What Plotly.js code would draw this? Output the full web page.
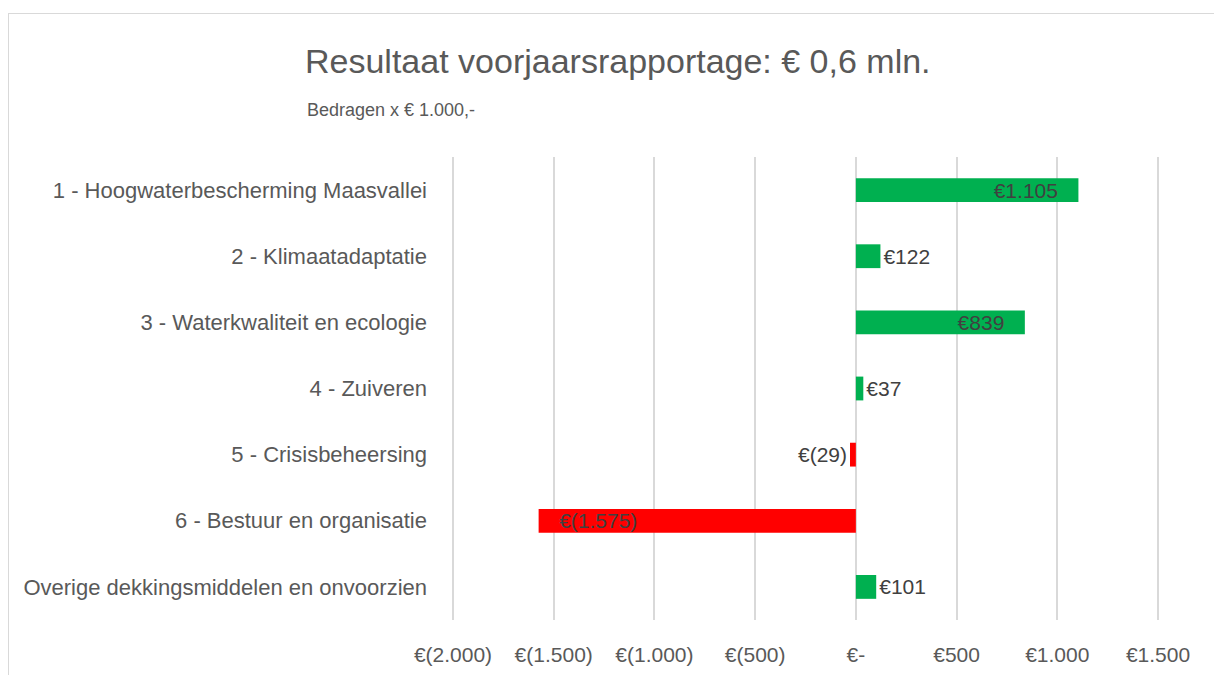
<!DOCTYPE html>
<html><head><meta charset="utf-8">
<script src="https://cdn.plot.ly/plotly-3.0.1.min.js"></script>
<style>
html,body{margin:0;padding:0;background:#fff;}
#wrap{position:relative;width:1214px;height:675px;overflow:hidden;}
#chart{width:1214px;height:675px;}
#frame{position:absolute;left:8px;top:13px;width:1220px;height:700px;border:1px solid #d9d9d9;pointer-events:none;}
</style></head>
<body><div id="wrap"><div id="chart"></div><div id="frame"></div></div>
<script>
const categories = [
  "1 - Hoogwaterbescherming Maasvallei",
  "2 - Klimaatadaptatie",
  "3 - Waterkwaliteit en ecologie",
  "4 - Zuiveren",
  "5 - Crisisbeheersing",
  "6 - Bestuur en organisatie",
  "Overige dekkingsmiddelen en onvoorzien"
];
const values = [1105, 122, 839, 37, -29, -1575, 101];
const tickVals = [-2000, -1500, -1000, -500, 0, 500, 1000, 1500];
const tickText = ["€(2.000)", "€(1.500)", "€(1.000)", "€(500)", "€-", "€500", "€1.000", "€1.500"];

function fmt(v){
  const a = Math.abs(v).toString().replace(/\B(?=(\d{3})+(?!\d))/g, ".");
  return v < 0 ? "€(" + a + ")" : "€" + a;
}
const colors = values.map(v => v < 0 ? "#FF0000" : "#00B050");
const positions = values.map(v => Math.abs(v) > 500 ? "inside" : "outside");
const PAD = "\u00a0\u00a0\u00a0";
const labels = values.map((v, i) => {
  if (positions[i] !== "inside") return fmt(v);
  return v < 0 ? PAD + fmt(v) : fmt(v) + PAD;
});

const FONT = "Liberation Sans, Arial, sans-serif";
const FS = 21;
const trace = {
  type: "bar", orientation: "h",
  y: categories, x: values,
  marker: {color: colors},
  width: 0.36,
  text: labels,
  textposition: positions,
  insidetextanchor: "end",
  constraintext: "none",
  cliponaxis: false,
  textfont: {family: FONT, size: FS, color: "#404040"},
  insidetextfont: {family: FONT, size: FS, color: "#404040"},
  outsidetextfont: {family: FONT, size: FS, color: "#404040"},
  hoverinfo: "none"
};
const L = 451, R = 54, T = 157, B = 55;
const layout = {
  width: 1214, height: 675,
  margin: {l: L, r: R, t: T, b: B},
  paper_bgcolor: "#fff", plot_bgcolor: "#fff",
  showlegend: false,
  font: {family: FONT, color: "#595959"},
  title: {text: "Resultaat voorjaarsrapportage: € 0,6 mln.", xref: "container", yref: "container",
    x: 305/1214, xanchor: "left", y: 1 - 61/675, yanchor: "middle",
    font: {family: FONT, size: 34, color: "#595959"}},
  xaxis: {
    range: [-2010, 1510], tickvals: tickVals, ticktext: tickText,
    showgrid: true, gridcolor: "#d9d9d9", gridwidth: 2, zeroline: false,
    showline: false, ticks: "", ticklabelstandoff: 20,
    tickfont: {family: FONT, size: FS, color: "#595959"}, fixedrange: true
  },
  yaxis: {
    autorange: "reversed", type: "category", showgrid: false, zeroline: false,
    showline: false, ticks: "", ticklabelstandoff: 23,
    tickfont: {family: FONT, size: 22, color: "#595959"}
  },
  annotations: [
    {text: "Bedragen x € 1.000,-", xref: "paper", yref: "paper",
     x: (305 - L) / (1214 - L - R), y: 1 + (T - 110) / (675 - T - B),
     xanchor: "left", yanchor: "middle",
     showarrow: false, font: {family: FONT, size: 18, color: "#595959"}}
  ]
};
Plotly.newPlot("chart", [trace], layout, {displayModeBar: false, staticPlot: true});
</script></body></html>
